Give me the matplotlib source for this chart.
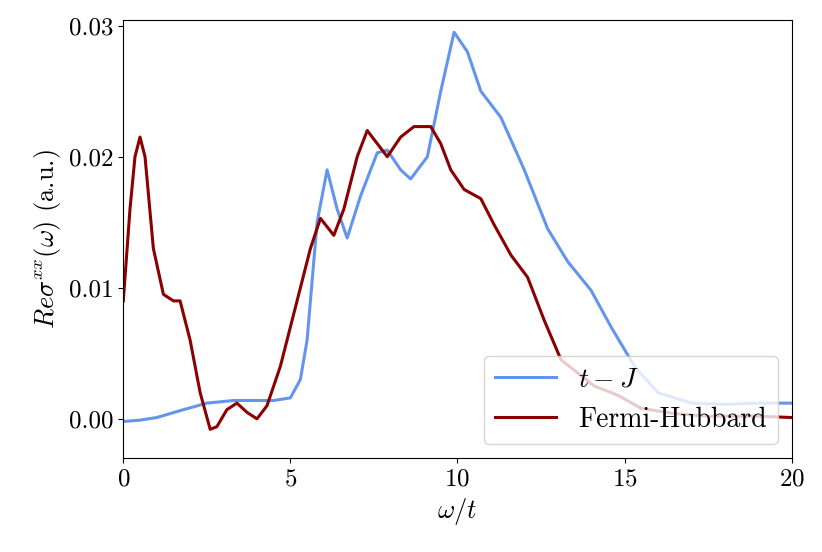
import numpy as np
import matplotlib
matplotlib.use("Agg")
import matplotlib.pyplot as plt

plt.rcParams['font.family'] = 'serif'
plt.rcParams['font.serif'] = ['cmr10']
plt.rcParams['mathtext.fontset'] = 'cm'
plt.rcParams['axes.formatter.use_mathtext'] = True

# t-J curve
tj_w = [0, 0.5, 1, 1.8, 2.5, 3.3, 4.5, 5, 5.3, 5.5, 5.8, 6.1, 6.4, 6.7, 7.1, 7.6, 7.9, 8.3, 8.6,
        9.1, 9.5, 9.9, 10.3, 10.7, 11.3, 12, 12.7, 13.3, 14, 14.6, 15.3, 16, 17, 18, 19, 20]
tj_s = [-0.0002, -0.0001, 0.0001, 0.0007, 0.0012, 0.0014, 0.0014, 0.0016, 0.003, 0.006, 0.015, 0.019,
        0.016, 0.0138, 0.017, 0.0203, 0.0205, 0.019, 0.0183, 0.020, 0.025, 0.0295, 0.028, 0.025,
        0.023, 0.019, 0.0145, 0.012, 0.0098, 0.007, 0.004, 0.002, 0.0012, 0.0011, 0.0012, 0.0012]

# Fermi-Hubbard curve
fh_w = [0, 0.2, 0.35, 0.5, 0.65, 0.9, 1.2, 1.5, 1.7, 2.0, 2.3, 2.6, 2.8, 3.1, 3.4, 3.7, 4.0, 4.3,
        4.7, 5.2, 5.6, 5.9, 6.3, 6.6, 7.0, 7.3, 7.6, 7.9, 8.3, 8.7, 9.2, 9.5, 9.8, 10.2, 10.7, 11.1,
        11.6, 12.1, 12.6, 13.1, 13.6, 14.1, 14.8, 15.5, 16.5, 17.5, 19, 20]
fh_s = [0.009, 0.016, 0.020, 0.0215, 0.020, 0.013, 0.0095, 0.009, 0.009, 0.006, 0.002, -0.0008,
        -0.0006, 0.0007, 0.0012, 0.0005, 0.0, 0.001, 0.004, 0.009, 0.013, 0.0153, 0.014, 0.016,
        0.020, 0.022, 0.021, 0.020, 0.0215, 0.0223, 0.0223, 0.021, 0.019, 0.0175, 0.0168, 0.0148,
        0.0125, 0.0108, 0.0075, 0.0045, 0.0035, 0.0025, 0.0018, 0.0008, 0.0004, 0.0002, 0.0002, 0.0001]

fig, ax = plt.subplots(figsize=(8.22, 5.52), dpi=100)
ax.plot(tj_w, tj_s, color='cornflowerblue', lw=2.2, label='$t-J$', solid_joinstyle='round')
ax.plot(fh_w, fh_s, color='darkred', lw=2.2, label='Fermi-Hubbard', solid_joinstyle='round')
ax.set_xlim(0, 20)
ax.set_ylim(-0.003, 0.0304)
ax.set_xticks([0, 5, 10, 15, 20])
ax.set_yticks([0, 0.01, 0.02, 0.03])
ax.set_yticklabels(['0.00', '0.01', '0.02', '0.03'])
ax.tick_params(labelsize=18)
ax.set_xlabel(r'$\omega/t$', fontsize=19)
ax.set_ylabel(r'$Re\sigma^{xx}(\omega)$ (a.u.)', fontsize=19)
ax.legend(loc='lower right', fontsize=20, handlelength=2.2)
fig.subplots_adjust(left=0.15, right=0.963, top=0.963, bottom=0.17)
fig.savefig('out.png')
